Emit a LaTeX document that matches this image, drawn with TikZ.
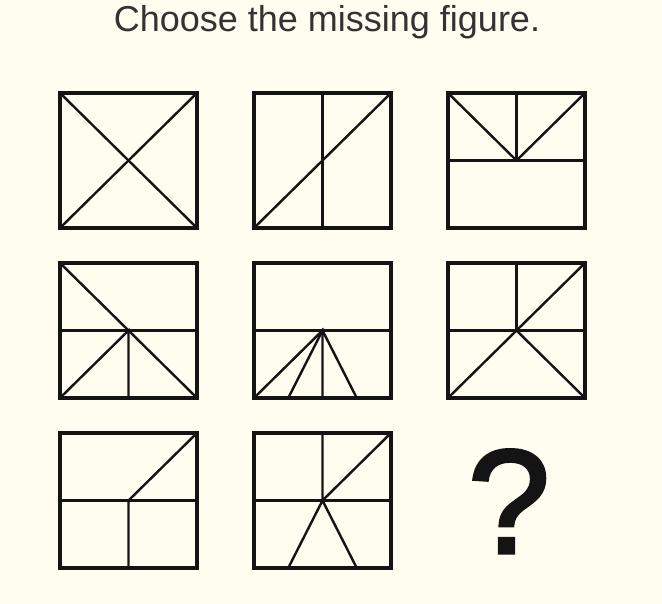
\documentclass[tikz,border=0pt]{standalone}
\usepackage{fontspec}
\setmainfont{Liberation Sans}
\newfontfamily\qfont[FakeBold=2.2]{Liberation Sans}
\usetikzlibrary{calc}
\definecolor{paper}{RGB}{255,253,240}
\definecolor{ink}{RGB}{20,20,20}
\definecolor{titlegray}{RGB}{51,51,51}
\tikzset{
  cell/.style={rectangle, draw=ink, line width=3.5pt, minimum width=137pt, minimum height=135pt, inner sep=0pt, outer sep=0pt},
  seg/.style={draw=ink, line width=2.4pt}
}
\begin{document}
\begin{tikzpicture}[x=1pt, y=1pt]
    \fill[paper] (0,0) rectangle (662,604);
    \useasboundingbox (0,0) rectangle (662,604);

    \node[anchor=base, text=titlegray, font=\fontsize{36}{40}\selectfont] (T) at (327,572) {Choose the missing figure.};

    \node[cell] (A) at (128.5,443.5) {};
    \node[cell] (B) at (322.5,443.5) {};
    \node[cell] (C) at (516.5,443.5) {};
    \node[cell] (D) at (128.5,273.5) {};
    \node[cell] (E) at (322.5,273.5) {};
    \node[cell] (F) at (516.5,273.5) {};
    \node[cell] (G) at (128.5,103.5) {};
    \node[cell] (H) at (322.5,103.5) {};
    \node[anchor=base, text=ink, font=\qfont\fontsize{148}{150}\selectfont] (Q) at (509,51) {?};

    % first row
    \draw[seg] (A.north west) -- (A.south east);
    \draw[seg] (A.south west) -- (A.north east);
    \draw[seg] (B.north) -- (B.south);
    \draw[seg] (B.south west) -- (B.north east);
    \draw[seg] (C.west) -- (C.east);
    \draw[seg] (C.north west) -- (C.center) -- (C.north east);
    \draw[seg] (C.north) -- (C.center);

    % second row
    \draw[seg] (D.west) -- (D.east);
    \draw[seg] (D.north west) -- (D.south east);
    \draw[seg] (D.south west) -- (D.center) -- (D.south);
    \draw[seg] (E.west) -- (E.east);
    \draw[seg] (E.south west) -- (E.center) -- (E.south);
    \draw[seg] ($(E.south west)!0.25!(E.south east)$) -- (E.center) -- ($(E.south west)!0.75!(E.south east)$);
    \draw[seg] (F.west) -- (F.east);
    \draw[seg] (F.north) -- (F.center);
    \draw[seg] (F.south west) -- (F.north east);
    \draw[seg] (F.center) -- (F.south east);

    % third row
    \draw[seg] (G.west) -- (G.east);
    \draw[seg] (G.north east) -- (G.center) -- (G.south);
    \draw[seg] (H.west) -- (H.east);
    \draw[seg] (H.north) -- (H.center) -- (H.north east);
    \draw[seg] ($(H.south west)!0.25!(H.south east)$) -- (H.center) -- ($(H.south west)!0.75!(H.south east)$);
\end{tikzpicture}
\end{document}
